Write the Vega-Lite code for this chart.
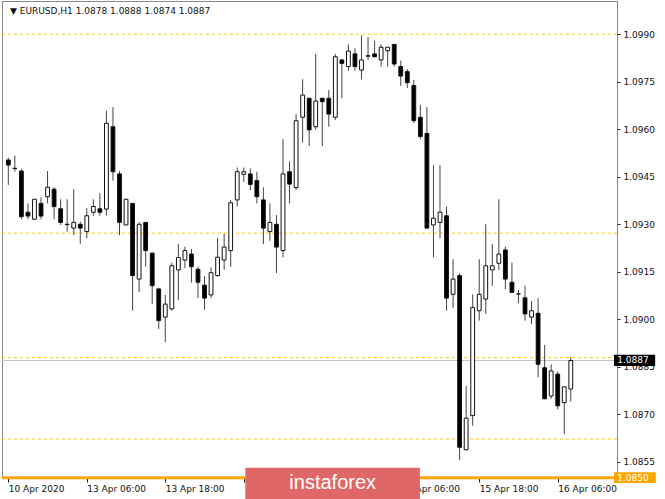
{
  "$schema": "https://vega.github.io/schema/vega-lite/v6.json",
  "width": 615,
  "height": 477,
  "autosize": {"type": "none"},
  "padding": {"left": 2, "top": 1, "right": 48, "bottom": 21},
  "background": "white",
  "config": {"view": {"stroke": "#888888", "strokeWidth": 1}, "font": "DejaVu Sans"},
  "datasets": {
    "candles": [
      {"t":0,"o":1.09503,"h":1.09510,"l":1.09424,"c":1.09487},
      {"t":1,"o":1.09477,"h":1.09517,"l":1.09466,"c":1.09476},
      {"t":2,"o":1.09468,"h":1.09475,"l":1.09316,"c":1.09324},
      {"t":3,"o":1.09338,"h":1.09366,"l":1.09316,"c":1.09326},
      {"t":4,"o":1.09316,"h":1.09380,"l":1.09315,"c":1.09379},
      {"t":5,"o":1.09366,"h":1.09385,"l":1.09316,"c":1.09326},
      {"t":6,"o":1.09387,"h":1.09468,"l":1.09366,"c":1.09417},
      {"t":7,"o":1.09411,"h":1.09416,"l":1.09316,"c":1.09356},
      {"t":8,"o":1.09349,"h":1.09379,"l":1.09298,"c":1.09306},
      {"t":9,"o":1.09300,"h":1.09379,"l":1.09277,"c":1.09299},
      {"t":10,"o":1.09288,"h":1.09411,"l":1.09266,"c":1.09306},
      {"t":11,"o":1.09300,"h":1.09308,"l":1.09238,"c":1.09288},
      {"t":12,"o":1.09277,"h":1.09351,"l":1.09256,"c":1.09327},
      {"t":13,"o":1.09338,"h":1.09379,"l":1.09327,"c":1.09356},
      {"t":14,"o":1.09349,"h":1.09398,"l":1.09327,"c":1.09338},
      {"t":15,"o":1.09348,"h":1.09659,"l":1.09327,"c":1.09619},
      {"t":16,"o":1.09608,"h":1.09670,"l":1.09438,"c":1.09466},
      {"t":17,"o":1.09459,"h":1.09468,"l":1.09266,"c":1.09306},
      {"t":18,"o":1.09298,"h":1.09380,"l":1.09297,"c":1.09379},
      {"t":19,"o":1.09366,"h":1.09367,"l":1.09027,"c":1.09138},
      {"t":20,"o":1.09127,"h":1.09306,"l":1.09086,"c":1.09300},
      {"t":21,"o":1.09306,"h":1.09307,"l":1.09166,"c":1.09217},
      {"t":22,"o":1.09209,"h":1.09210,"l":1.09048,"c":1.09106},
      {"t":23,"o":1.09096,"h":1.09097,"l":1.08969,"c":1.08996},
      {"t":24,"o":1.09007,"h":1.09077,"l":1.08928,"c":1.09048},
      {"t":25,"o":1.09033,"h":1.09179,"l":1.09027,"c":1.09169},
      {"t":26,"o":1.09156,"h":1.09238,"l":1.09061,"c":1.09195},
      {"t":27,"o":1.09187,"h":1.09229,"l":1.09162,"c":1.09217},
      {"t":28,"o":1.09206,"h":1.09222,"l":1.09116,"c":1.09166},
      {"t":29,"o":1.09158,"h":1.09166,"l":1.09067,"c":1.09117},
      {"t":30,"o":1.09108,"h":1.09137,"l":1.09030,"c":1.09067},
      {"t":31,"o":1.09077,"h":1.09164,"l":1.09067,"c":1.09147},
      {"t":32,"o":1.09138,"h":1.09257,"l":1.09135,"c":1.09196},
      {"t":33,"o":1.09187,"h":1.09270,"l":1.09156,"c":1.09228},
      {"t":34,"o":1.09217,"h":1.09377,"l":1.09166,"c":1.09368},
      {"t":35,"o":1.09377,"h":1.09479,"l":1.09356,"c":1.09466},
      {"t":36,"o":1.09458,"h":1.09479,"l":1.09434,"c":1.09466},
      {"t":37,"o":1.09459,"h":1.09477,"l":1.09408,"c":1.09426},
      {"t":38,"o":1.09438,"h":1.09466,"l":1.09366,"c":1.09387},
      {"t":39,"o":1.09377,"h":1.09417,"l":1.09238,"c":1.09288},
      {"t":40,"o":1.09277,"h":1.09366,"l":1.09248,"c":1.09306},
      {"t":41,"o":1.09300,"h":1.09329,"l":1.09146,"c":1.09228},
      {"t":42,"o":1.09217,"h":1.09569,"l":1.09196,"c":1.09459},
      {"t":43,"o":1.09466,"h":1.09499,"l":1.09366,"c":1.09427},
      {"t":44,"o":1.09416,"h":1.09648,"l":1.09408,"c":1.09627},
      {"t":45,"o":1.09638,"h":1.09758,"l":1.09558,"c":1.09708},
      {"t":46,"o":1.09698,"h":1.09699,"l":1.09547,"c":1.09598},
      {"t":47,"o":1.09608,"h":1.09838,"l":1.09598,"c":1.09689},
      {"t":48,"o":1.09698,"h":1.09699,"l":1.09547,"c":1.09687},
      {"t":49,"o":1.09698,"h":1.09724,"l":1.09608,"c":1.09648},
      {"t":50,"o":1.09638,"h":1.09838,"l":1.09629,"c":1.09829},
      {"t":51,"o":1.09819,"h":1.09820,"l":1.09698,"c":1.09808},
      {"t":52,"o":1.09798,"h":1.09868,"l":1.09785,"c":1.09847},
      {"t":53,"o":1.09838,"h":1.09856,"l":1.09785,"c":1.09798},
      {"t":54,"o":1.09787,"h":1.09896,"l":1.09758,"c":1.09819},
      {"t":55,"o":1.09832,"h":1.09891,"l":1.09819,"c":1.09831},
      {"t":56,"o":1.09838,"h":1.09879,"l":1.09827,"c":1.09829},
      {"t":57,"o":1.09819,"h":1.09868,"l":1.09798,"c":1.09859},
      {"t":58,"o":1.09848,"h":1.09860,"l":1.09798,"c":1.09859},
      {"t":59,"o":1.09868,"h":1.09869,"l":1.09798,"c":1.09806},
      {"t":60,"o":1.09798,"h":1.09817,"l":1.09737,"c":1.09768},
      {"t":61,"o":1.09782,"h":1.09790,"l":1.09730,"c":1.09747},
      {"t":62,"o":1.09738,"h":1.09756,"l":1.09620,"c":1.09627},
      {"t":63,"o":1.09638,"h":1.09677,"l":1.09569,"c":1.09577},
      {"t":64,"o":1.09587,"h":1.09670,"l":1.09287,"c":1.09288},
      {"t":65,"o":1.09298,"h":1.09487,"l":1.09196,"c":1.09319},
      {"t":66,"o":1.09306,"h":1.09487,"l":1.09256,"c":1.09338},
      {"t":67,"o":1.09327,"h":1.09356,"l":1.09027,"c":1.09067},
      {"t":68,"o":1.09079,"h":1.09190,"l":1.09035,"c":1.09127},
      {"t":69,"o":1.09138,"h":1.09146,"l":1.08556,"c":1.08596},
      {"t":70,"o":1.08588,"h":1.08790,"l":1.08587,"c":1.08688},
      {"t":71,"o":1.08696,"h":1.09079,"l":1.08664,"c":1.09037},
      {"t":72,"o":1.09027,"h":1.09190,"l":1.08996,"c":1.09079},
      {"t":73,"o":1.09064,"h":1.09300,"l":1.09017,"c":1.09169},
      {"t":74,"o":1.09156,"h":1.09238,"l":1.09106,"c":1.09169},
      {"t":75,"o":1.09177,"h":1.09379,"l":1.09156,"c":1.09206},
      {"t":76,"o":1.09219,"h":1.09229,"l":1.09095,"c":1.09127},
      {"t":77,"o":1.09117,"h":1.09179,"l":1.09084,"c":1.09085},
      {"t":78,"o":1.09080,"h":1.09093,"l":1.09051,"c":1.09080},
      {"t":79,"o":1.09068,"h":1.09106,"l":1.08996,"c":1.09017},
      {"t":80,"o":1.09007,"h":1.09058,"l":1.08985,"c":1.09027},
      {"t":81,"o":1.09019,"h":1.09067,"l":1.08817,"c":1.08858},
      {"t":82,"o":1.08847,"h":1.08919,"l":1.08748,"c":1.08749},
      {"t":83,"o":1.08758,"h":1.08858,"l":1.08749,"c":1.08837},
      {"t":84,"o":1.08827,"h":1.08835,"l":1.08716,"c":1.08727},
      {"t":85,"o":1.08737,"h":1.08787,"l":1.08637,"c":1.08787},
      {"t":86,"o":1.0878,"h":1.0888,"l":1.0874,"c":1.0887}
    ],
    "levels": [{"p":1.0990},{"p":1.09272},{"p":1.08879},{"p":1.08622}]
  },
  "layer": [
    {
      "data": {"name": "levels"},
      "mark": {"type": "rule", "color": "#f2cc1a", "strokeWidth": 1, "strokeDash": [3, 3]},
      "encoding": {
        "y": {"field": "p", "type": "quantitative", "scale": {"domain": [1.08499, 1.10005], "nice": false, "zero": false},
          "axis": {"orient": "right", "values": [1.0855,1.0870,1.0885,1.0900,1.0915,1.0930,1.0945,1.0960,1.0975,1.0990], "format": ".4f", "title": null, "grid": false, "labelFontSize": 9, "labelColor": "#111111", "labelFont": "DejaVu Sans", "tickSize": 3, "tickColor": "#222222", "labelPadding": 3, "domainColor": "#888888", "labelBaseline": "middle"}}
      }
    },
    {
      "data": {"values": [{}]},
      "mark": {"type": "rule", "color": "#c4c4c4", "strokeWidth": 1},
      "encoding": {"y": {"datum": 1.0887, "type": "quantitative"}}
    },
    {
      "data": {"name": "candles"},
      "mark": {"type": "rule", "color": "#444444", "strokeWidth": 1},
      "encoding": {
        "x": {"field": "t", "type": "quantitative", "scale": {"domain": [-0.2, 92.3], "nice": false, "zero": false},
          "axis": {"values": [0,12,24,36,48,60,72,84], "labelExpr": "['10 Apr 2020','13 Apr 06:00','13 Apr 18:00','','','15 Apr 06:00','15 Apr 18:00','16 Apr 06:00'][round(datum.value/12)]", "title": null, "grid": false, "domain": false, "labelAlign": "left", "labelBaseline": "top", "labelFontSize": 9, "labelColor": "#111111", "labelFont": "DejaVu Sans", "tickSize": 4, "tickColor": "#111111", "labelPadding": 2, "labelFlush": false, "labelOverlap": false, "labelBound": false}},
        "y": {"field": "l", "type": "quantitative"},
        "y2": {"field": "h"}
      }
    },
    {
      "data": {"name": "candles"},
      "mark": {"type": "bar", "size": 3.8, "stroke": "#111111", "strokeWidth": 1},
      "encoding": {
        "x": {"field": "t", "type": "quantitative"},
        "y": {"field": "o", "type": "quantitative"},
        "y2": {"field": "c"},
        "fill": {"condition": {"test": "datum.c >= datum.o", "value": "#ffffff"}, "value": "#000000"}
      }
    },
    {
      "data": {"values": [{}]},
      "mark": {"type": "rule", "color": "#ffa500", "strokeWidth": 3},
      "encoding": {"y": {"datum": 1.0850, "type": "quantitative"}}
    },
    {
      "data": {"values": [{}]},
      "mark": {"type": "text", "text": "▼  EURUSD,H1  1.0878 1.0888 1.0874 1.0887", "align": "left", "baseline": "middle", "fontSize": 9, "font": "DejaVu Sans", "color": "#111111"},
      "encoding": {"x": {"datum": 0.25, "type": "quantitative"}, "y": {"datum": 1.09973, "type": "quantitative"}}
    },
    {
      "data": {"values": [{}]},
      "mark": {"type": "rect", "color": "#000000"},
      "encoding": {"x": {"datum": 92.6, "type": "quantitative"}, "x2": {"datum": 98.9}, "y": {"datum": 1.08888, "type": "quantitative"}, "y2": {"datum": 1.08853}}
    },
    {
      "data": {"values": [{}]},
      "mark": {"type": "text", "text": "1.0887", "align": "left", "baseline": "middle", "fontSize": 9, "font": "DejaVu Sans", "color": "#ffffff"},
      "encoding": {"x": {"datum": 93.1, "type": "quantitative"}, "y": {"datum": 1.0887, "type": "quantitative"}}
    },
    {
      "data": {"values": [{}]},
      "mark": {"type": "rect", "color": "#ffa500"},
      "encoding": {"x": {"datum": 92.6, "type": "quantitative"}, "x2": {"datum": 99.0}, "y": {"datum": 1.08517, "type": "quantitative"}, "y2": {"datum": 1.08483}}
    },
    {
      "data": {"values": [{}]},
      "mark": {"type": "text", "text": "1.0850", "align": "left", "baseline": "middle", "fontSize": 9, "font": "DejaVu Sans", "color": "#ffffff"},
      "encoding": {"x": {"datum": 93.1, "type": "quantitative"}, "y": {"datum": 1.0850, "type": "quantitative"}}
    },
    {
      "data": {"values": [{}]},
      "mark": {"type": "rect", "color": "#e06767"},
      "encoding": {"x": {"datum": 36.24, "type": "quantitative"}, "x2": {"datum": 62.93}, "y": {"datum": 1.085315, "type": "quantitative"}, "y2": {"datum": 1.08433}}
    },
    {
      "data": {"values": [{}]},
      "mark": {"type": "text", "text": "instaforex", "align": "center", "baseline": "middle", "fontSize": 20, "font": "Liberation Sans", "color": "#ffffff"},
      "encoding": {"x": {"datum": 49.6, "type": "quantitative"}, "y": {"datum": 1.08483, "type": "quantitative"}}
    }
  ]
}
